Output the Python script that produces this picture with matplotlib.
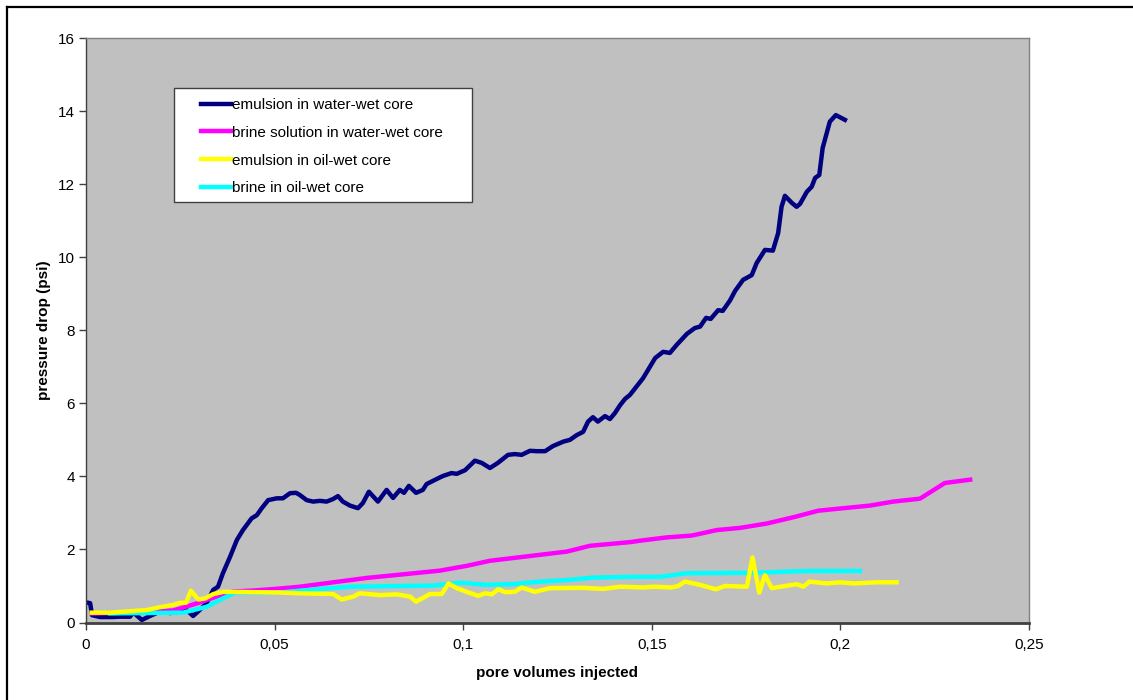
import matplotlib
matplotlib.use("Agg")
import matplotlib.pyplot as plt
from matplotlib.lines import Line2D
from matplotlib.patches import Rectangle
from matplotlib.ticker import FuncFormatter

plt.rcParams['font.family'] = ['Liberation Sans', 'DejaVu Sans']

# emulsion in water-wet core
ww_emul_x = [0.0, 0.0011, 0.0016, 0.0037, 0.0072, 0.009, 0.0117, 0.0125, 0.0148,
             0.017, 0.0196, 0.0223, 0.0249, 0.0267, 0.0284, 0.0297, 0.032, 0.0337,
             0.035, 0.0363, 0.0382, 0.04, 0.0416, 0.0439, 0.0453, 0.0466, 0.0483,
             0.0506, 0.0522, 0.0541, 0.0557, 0.0567, 0.0585, 0.0602, 0.062, 0.0638,
             0.0655, 0.0668, 0.0681, 0.07, 0.0721, 0.0734, 0.075, 0.0774, 0.0797,
             0.0814, 0.0832, 0.0843, 0.0856, 0.0875, 0.0893, 0.0903, 0.093, 0.0946,
             0.0969, 0.0983, 0.1005, 0.1031, 0.1049, 0.1071, 0.1092, 0.1119, 0.1137,
             0.1155, 0.1177, 0.1195, 0.1217, 0.1238, 0.1265, 0.1283, 0.1301, 0.1318,
             0.1331, 0.1344, 0.1357, 0.1376, 0.1389, 0.1402, 0.1416, 0.1429, 0.1442,
             0.1477, 0.1509, 0.153, 0.1548, 0.1566, 0.1593, 0.1614, 0.1628, 0.1644,
             0.1656, 0.1676, 0.1688, 0.1707, 0.1721, 0.1742, 0.1765, 0.1778, 0.18,
             0.1821, 0.1835, 0.1844, 0.1853, 0.1871, 0.1884, 0.1893, 0.1911, 0.1924,
             0.1933, 0.1944, 0.1953, 0.1972, 0.1988, 0.2012]
ww_emul_y = [0.55, 0.53, 0.2, 0.15, 0.15, 0.16, 0.16, 0.28, 0.07,
             0.18, 0.3, 0.26, 0.3, 0.34, 0.18, 0.3, 0.53, 0.89,
             0.98, 1.35, 1.8, 2.26, 2.53, 2.85, 2.94, 3.13, 3.35,
             3.4, 3.4, 3.54, 3.55, 3.49, 3.35, 3.31, 3.33, 3.31,
             3.38, 3.46, 3.31, 3.2, 3.13, 3.27, 3.58, 3.31, 3.63,
             3.41, 3.63, 3.55, 3.74, 3.55, 3.63, 3.79, 3.93, 4.01,
             4.09, 4.07, 4.17, 4.43, 4.37, 4.23, 4.37, 4.59, 4.61,
             4.59, 4.7, 4.69, 4.69, 4.83, 4.95, 5.0, 5.13, 5.22,
             5.5, 5.62, 5.5, 5.65, 5.57, 5.73, 5.95, 6.12, 6.23,
             6.69, 7.24, 7.41, 7.38, 7.6, 7.9, 8.06, 8.1, 8.34,
             8.31, 8.55, 8.53, 8.81, 9.08, 9.38, 9.51, 9.84, 10.2,
             10.18, 10.66, 11.38, 11.68, 11.49, 11.38, 11.46, 11.79, 11.93,
             12.17, 12.25, 12.99, 13.71, 13.89, 13.76]

# brine solution in water-wet core
ww_brine_x = [0.0016, 0.0125, 0.0231, 0.0249, 0.0302, 0.0346, 0.039, 0.045, 0.0514,
              0.0567, 0.0655, 0.0744, 0.0832, 0.0938, 0.1009, 0.1071, 0.1185, 0.1274,
              0.1336, 0.1442, 0.1469, 0.154, 0.1606, 0.1672, 0.1734, 0.1805, 0.1875,
              0.1941, 0.1999, 0.2078, 0.214, 0.2211, 0.2277, 0.2344]
ww_brine_y = [0.25, 0.27, 0.33, 0.38, 0.55, 0.71, 0.85, 0.88, 0.93,
              0.98, 1.1, 1.22, 1.31, 1.42, 1.55, 1.69, 1.83, 1.94,
              2.1, 2.2, 2.24, 2.33, 2.38, 2.53, 2.59, 2.71, 2.88,
              3.06, 3.12, 3.2, 3.31, 3.39, 3.82, 3.91]

# emulsion in oil-wet core
ow_emul_x = [0.0015, 0.0064, 0.0161, 0.0196, 0.0231, 0.0249, 0.0265, 0.0278, 0.0298,
             0.0316, 0.0338, 0.0364, 0.039, 0.0514, 0.0567, 0.0655, 0.0678, 0.0709,
             0.0726, 0.0779, 0.0824, 0.0859, 0.0875, 0.0912, 0.0943, 0.0961, 0.0983,
             0.1009, 0.104, 0.1058, 0.1076, 0.1093, 0.1111, 0.1137, 0.1155, 0.119,
             0.123, 0.1318, 0.1371, 0.1416, 0.1477, 0.1506, 0.1553, 0.157, 0.1588,
             0.1628, 0.167, 0.1694, 0.1752, 0.1767, 0.1785, 0.18, 0.1818, 0.1884,
             0.1902, 0.1918, 0.1964, 0.1999, 0.2034, 0.2096, 0.2149]
ow_emul_y = [0.27, 0.27, 0.34, 0.42, 0.48, 0.54, 0.54, 0.87, 0.63,
             0.66, 0.78, 0.84, 0.84, 0.82, 0.8, 0.78, 0.63, 0.71,
             0.8, 0.75, 0.77, 0.71, 0.57, 0.78, 0.78, 1.07, 0.94,
             0.84, 0.73, 0.8, 0.77, 0.91, 0.83, 0.84, 0.96, 0.84,
             0.94, 0.95, 0.92, 0.98, 0.96, 0.98, 0.96, 1.0, 1.12,
             1.03, 0.91, 1.0, 0.98, 1.78, 0.82, 1.3, 0.94, 1.05,
             0.98, 1.12, 1.07, 1.1, 1.07, 1.1, 1.1]

# brine in oil-wet core
ow_brine_x = [0.0064, 0.0257, 0.032, 0.0355, 0.0395, 0.0514, 0.0567, 0.0673, 0.07,
              0.092, 0.0992, 0.1062, 0.1132, 0.1204, 0.1274, 0.1344, 0.1442, 0.1522,
              0.1593, 0.176, 0.1911, 0.2052]
ow_brine_y = [0.25, 0.27, 0.43, 0.62, 0.82, 0.82, 0.87, 0.96, 0.98,
              1.01, 1.09, 1.03, 1.05, 1.12, 1.16, 1.23, 1.25, 1.25,
              1.35, 1.36, 1.41, 1.41]

fs = 11

fig = plt.figure(figsize=(11.33, 7.0), dpi=100)
ax = fig.add_axes([0.0759, 0.1107, 0.8323, 0.835])
ax.set_facecolor('#C0C0C0')

lw = 3.2
ax.plot(ww_emul_x, ww_emul_y, color='#000080', lw=lw, label='emulsion in water-wet core')
ax.plot(ww_brine_x, ww_brine_y, color='#FF00FF', lw=lw, label='brine solution in water-wet core')
ax.plot(ow_emul_x, ow_emul_y, color='#FFFF00', lw=lw, label='emulsion in oil-wet core', zorder=2.2)
ax.plot(ow_brine_x, ow_brine_y, color='#00FFFF', lw=lw, label='brine in oil-wet core', zorder=2.1)

ax.set_xlim(0, 0.25)
ax.set_ylim(0, 16)
ax.set_xticks([0, 0.05, 0.1, 0.15, 0.2, 0.25])
ax.set_yticks(range(0, 17, 2))
ax.xaxis.set_major_formatter(FuncFormatter(lambda v, p: ('%g' % round(v, 2)).replace('.', ',')))
ax.tick_params(direction='out', length=5, width=1, color='#404040', labelsize=fs,
               labelcolor='black')
ax.tick_params(axis='x', pad=6)
ax.tick_params(axis='y', pad=3)

for side in ['top', 'right']:
    ax.spines[side].set_color('#808080')
    ax.spines[side].set_linewidth(1)
ax.spines['left'].set_color('#404040')
ax.spines['left'].set_linewidth(1)
ax.spines['bottom'].set_color('#404040')
ax.spines['bottom'].set_linewidth(2)

ax.set_xlabel('pore volumes injected', fontsize=fs, fontweight='bold', labelpad=10)
ax.set_ylabel('pressure drop (psi)', fontsize=fs, fontweight='bold', labelpad=5)

# legend box with frameless legend inside
ax.add_patch(Rectangle((0.0933, 0.72), 0.3157, 0.194, transform=ax.transAxes,
                       facecolor='white', edgecolor='#404040', lw=1, zorder=5))
handles, labels = ax.get_legend_handles_labels()
leg = ax.legend(handles, labels, loc='upper left', bbox_to_anchor=(0.1142, 0.909),
                frameon=False, fontsize=fs, handlelength=2.0, handletextpad=0.05,
                labelspacing=0.9, borderpad=0.45, borderaxespad=0)
leg.set_zorder(6)

# outer chart border (top and left edges)
fig.add_artist(Line2D([0.0062, 1.0], [0.9895, 0.9895], color='black', lw=1.6))
fig.add_artist(Line2D([0.0062, 0.0062], [0.0, 0.9895], color='black', lw=1.6))

fig.savefig('out.png', dpi=100)
